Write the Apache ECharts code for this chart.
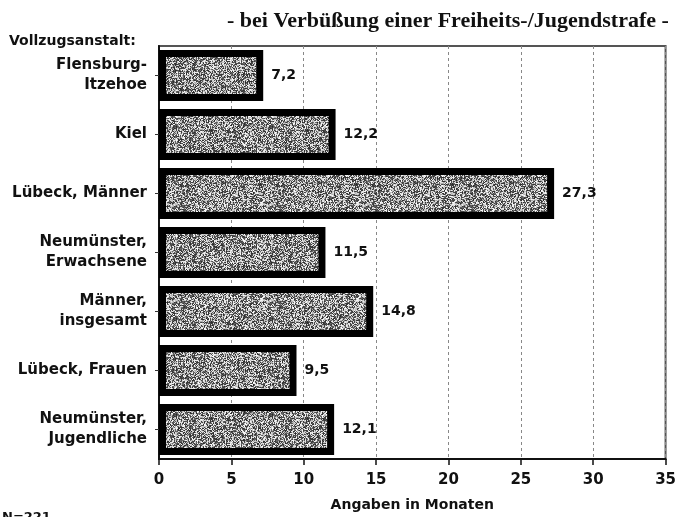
<!DOCTYPE html>
<html>
<head>
<meta charset="utf-8">
<script src="https://cdn.jsdelivr.net/npm/echarts@6/dist/echarts.min.js"></script>
<style>
  html, body { margin: 0; padding: 0; background: #fff; }
  #chart { width: 679px; height: 517px; }
</style>
</head>
<body>
<div id="chart"></div>
<script>
const categories = [
  'Flensburg-\nItzehoe',
  'Kiel',
  'Lübeck, Männer',
  'Neumünster,\nErwachsene',
  'Männer,\ninsgesamt',
  'Lübeck, Frauen',
  'Neumünster,\nJugendliche'
]
const months = [7.2, 12.2, 27.3, 11.5, 14.8, 9.5, 12.1]
const xTicks = [0, 5, 10, 15, 20, 25, 30, 35]

// speckled fill texture (fixed seed so it looks the same each run)
const makeSpeckle = () => {
  const c = document.createElement('canvas')
  c.width = 96
  c.height = 96
  const ctx = c.getContext('2d')
  const img = ctx.createImageData(96, 96)
  let seed = 12345
  const rnd = () => {
    seed = (seed * 1103515245 + 12345) % 2147483648
    return seed / 2147483648
  }
  for (let i = 0; i < 96 * 96; i++) {
    const v = rnd() < 0.5 ? 40 + rnd() * 70 : 170 + rnd() * 85
    img.data[i * 4] = v
    img.data[i * 4 + 1] = v
    img.data[i * 4 + 2] = v
    img.data[i * 4 + 3] = 255
  }
  ctx.putImageData(img, 0, 0)
  return c
}

const chart = echarts.init(document.getElementById('chart'))
const labelFont = '"DejaVu Sans", Arial, sans-serif'

const option = {
  animation: false,
  backgroundColor: '#fff',
  graphic: [
    {
      type: 'text', left: 227, top: 10,
      style: {
        text: '- bei Verbüßung einer Freiheits-/Jugendstrafe -',
        font: 'bold 22px "Liberation Serif", "DejaVu Serif", serif',
        fill: '#111'
      }
    },
    {
      type: 'text', left: 9, top: 34,
      style: { text: 'Vollzugsanstalt:', font: 'bold 14px ' + labelFont, fill: '#111' }
    },
    {
      type: 'text', left: 2, top: 511,
      style: { text: 'N=221', font: 'bold 13px ' + labelFont, fill: '#111' }
    }
  ],
  grid: {
    left: 159, right: 12, top: 46, bottom: 55,
    show: true, borderColor: '#555', borderWidth: 2
  },
  xAxis: {
    type: 'value',
    min: 0, max: 35, interval: 5,
    name: 'Angaben in Monaten',
    nameLocation: 'middle',
    nameGap: 39,
    nameTextStyle: { fontFamily: labelFont, fontWeight: 'bold', fontSize: 14, color: '#111' },
    axisLine: { show: true, lineStyle: { color: '#111', width: 2 } },
    axisTick: { show: true, length: 6, lineStyle: { color: '#111', width: 1.5 } },
    axisLabel: {
      margin: 14, fontFamily: labelFont, fontWeight: 'bold', fontSize: 15, color: '#111',
      formatter: (v) => xTicks.includes(v) ? String(v) : ''
    },
    splitLine: { show: true, lineStyle: { color: '#888', type: [3, 3], width: 1 } }
  },
  yAxis: {
    type: 'category',
    inverse: true,
    data: categories,
    axisLine: { show: true, lineStyle: { color: '#111', width: 2 } },
    axisTick: { show: true, alignWithLabel: true, length: 4, lineStyle: { color: '#333' } },
    axisLabel: {
      margin: 12, fontFamily: labelFont, fontWeight: 'bold', fontSize: 15,
      color: '#111', lineHeight: 20, align: 'right'
    }
  },
  series: [
    {
      type: 'bar',
      data: months,
      barWidth: 51,
      itemStyle: {
        color: { image: makeSpeckle(), repeat: 'repeat' },
        borderColor: '#000',
        borderWidth: 7
      },
      label: {
        show: true,
        position: 'right',
        distance: 8,
        fontFamily: labelFont, fontWeight: 'bold', fontSize: 14, color: '#111',
        formatter: (p) => p.value.toFixed(1).replace('.', ',')
      }
    }
  ]
}

chart.setOption(option)
window.addEventListener('resize', () => chart.resize())
</script>
</body>
</html>
